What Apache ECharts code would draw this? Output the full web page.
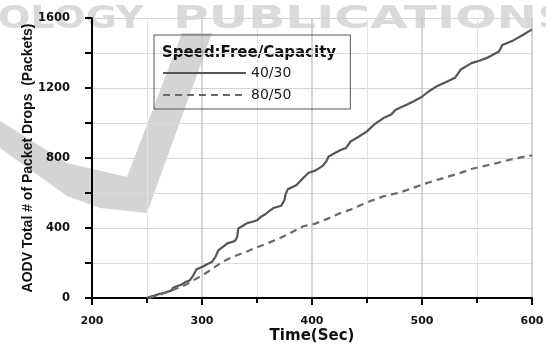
<!DOCTYPE html>
<html>
<head>
<meta charset="utf-8">
<script src="https://cdn.jsdelivr.net/npm/echarts@6/dist/echarts.min.js"></script>
<style>
	html, body { margin: 0; padding: 0; background: #fff; }
	#chart { width: 546px; height: 345px; }
</style>
</head>
<body>
<div id="chart"></div>
<script>
	// [time(sec), total packet drops]
	var drops_40_30 = [
		[250, 0], [252, 5], [256, 12], [262, 24], [266, 30], [272, 42], [274, 60], [281, 76], [284, 88],
		[289, 102], [292, 128], [295, 164], [301, 180], [305, 194], [309, 206], [312, 232], [315, 274],
		[320, 296], [323, 312], [330, 326], [332, 350], [333, 398], [338, 416], [341, 428], [346, 436],
		[350, 444], [354, 466], [358, 480], [361, 496], [365, 514], [372, 527], [375, 560], [376, 592],
		[378, 622], [386, 646], [392, 686], [397, 716], [403, 728], [409, 752], [413, 780], [415, 808],
		[420, 826], [426, 846], [431, 858], [435, 894], [442, 920], [450, 952], [457, 994], [465, 1028],
		[472, 1048], [476, 1076], [486, 1104], [493, 1126], [500, 1150], [506, 1180], [514, 1212],
		[522, 1234], [530, 1258], [535, 1304], [545, 1342], [552, 1356], [559, 1372], [570, 1408],
		[573, 1446], [583, 1472], [592, 1504], [600, 1535]
	];
	var drops_80_50 = [
		[252, 0], [262, 20], [274, 47], [285, 75], [294, 108], [301, 132], [310, 170], [320, 212],
		[330, 240], [341, 266], [350, 290], [360, 314], [370, 340], [380, 370], [392, 410], [403, 425],
		[415, 455], [426, 486], [435, 505], [445, 533], [455, 558], [465, 581], [480, 603], [490, 625],
		[500, 648], [510, 668], [523, 692], [535, 715], [545, 737], [557, 755], [568, 771], [580, 790],
		[594, 809], [600, 815]
	];
	var seriesNames = [ '40/30', '80/50' ];

	var font = 'DejaVu Sans';
	var chart = echarts.init(document.getElementById('chart'), null, { renderer : 'canvas' });

	var options = {
		animation : false,
		backgroundColor : '#fff',
		grid : {
			left : 92,
			right : 14,
			top : 18,
			bottom : 47,
			outerBoundsMode : 'none'
		},
		legend : {
			data : seriesNames,
			orient : 'vertical',
			left : 154,
			top : 35,
			itemWidth : 83,
			itemHeight : 14,
			itemGap : 8,
			padding : [ 31, 59, 7, 8 ],
			borderColor : '#555',
			borderWidth : 1,
			itemStyle : {
				opacity : 0
			},
			textStyle : {
				fontFamily : font,
				fontSize : 14,
				color : '#222'
			}
		},
		graphic : [ {
			// watermark
			type : 'polygon',
			z : -10,
			shape : {
				points : [ [ 0, 121 ], [ 67, 163 ], [ 127, 177 ], [ 182, 33 ], [ 212, 33 ], [ 147, 213 ],
						[ 100, 208 ], [ 67, 196 ], [ 0, 148 ] ]
			},
			style : {
				fill : '#d4d4d4'
			}
		}, {
			type : 'text',
			z : -10,
			x : -2,
			y : 4,
			scaleX : 1.19,
			style : {
				text : 'OLOGY',
				font : 'bold 32px ' + font,
				fill : '#dadada',
				verticalAlign : 'top'
			}
		}, {
			type : 'text',
			z : -10,
			x : 173,
			y : 4,
			scaleX : 1.52,
			style : {
				text : 'PUBLICATIONS',
				font : 'bold 32px ' + font,
				fill : '#dadada',
				verticalAlign : 'top'
			}
		}, {
			type : 'text',
			left : 162,
			top : 46,
			style : {
				text : 'Speed:Free/Capacity',
				font : 'bold 15px ' + font,
				fill : '#111'
			}
		} ],
		xAxis : {
			type : 'value',
			min : 200,
			max : 600,
			interval : 100,
			name : 'Time(Sec)',
			nameLocation : 'middle',
			nameGap : 31,
			nameMoveOverlap : false,
			nameTextStyle : {
				fontFamily : font,
				fontWeight : 'bold',
				fontSize : 15,
				color : '#111'
			},
			axisLine : {
				onZero : false,
				lineStyle : {
					color : '#000',
					width : 2
				}
			},
			axisTick : {
				length : 7,
				lineStyle : {
					color : '#000',
					width : 2
				}
			},
			minorTick : {
				show : true,
				splitNumber : 2,
				length : 5,
				lineStyle : {
					color : '#000',
					width : 2
				}
			},
			axisLabel : {
				margin : 18,
				fontFamily : font,
				fontWeight : 'bold',
				fontSize : 11,
				color : '#111'
			},
			splitLine : {
				show : true,
				lineStyle : {
					color : '#c6c6c6',
					width : 1.5
				}
			},
			minorSplitLine : {
				show : true,
				lineStyle : {
					color : '#e3e3e3',
					width : 1
				}
			}
		},
		yAxis : {
			type : 'value',
			min : 0,
			max : 1600,
			interval : 400,
			name : 'AODV Total # of Packet Drops  (Packets)',
			nameLocation : 'middle',
			nameGap : 57,
			nameMoveOverlap : false,
			nameTextStyle : {
				fontFamily : 'Liberation Sans',
				fontWeight : 'bold',
				fontSize : 14,
				color : '#111'
			},
			axisLine : {
				show : true,
				lineStyle : {
					color : '#000',
					width : 2
				}
			},
			axisTick : {
				show : true,
				length : 7,
				lineStyle : {
					color : '#000',
					width : 2
				}
			},
			minorTick : {
				show : true,
				splitNumber : 2,
				length : 7,
				lineStyle : {
					color : '#000',
					width : 2
				}
			},
			axisLabel : {
				margin : 22,
				fontFamily : font,
				fontWeight : 'bold',
				fontSize : 11.5,
				color : '#111',
				formatter : function(value) {
					return String(value);
				}
			},
			splitLine : {
				show : true,
				lineStyle : {
					color : '#d4d4d4',
					width : 1.2
				}
			},
			minorSplitLine : {
				show : true,
				lineStyle : {
					color : '#dcdcdc',
					width : 1.2
				}
			}
		},
		series : [ {
			name : seriesNames[0],
			type : 'line',
			data : drops_40_30,
			symbol : 'none',
			lineStyle : {
				color : '#555',
				width : 2.2
			},
			itemStyle : {
				color : '#555'
			}
		}, {
			name : seriesNames[1],
			type : 'line',
			data : drops_80_50,
			symbol : 'none',
			lineStyle : {
				color : '#6a6a6a',
				width : 2.2,
				type : [ 7, 5 ]
			},
			itemStyle : {
				color : '#6a6a6a'
			}
		} ]
	};

	chart.setOption(options);
</script>
</body>
</html>
